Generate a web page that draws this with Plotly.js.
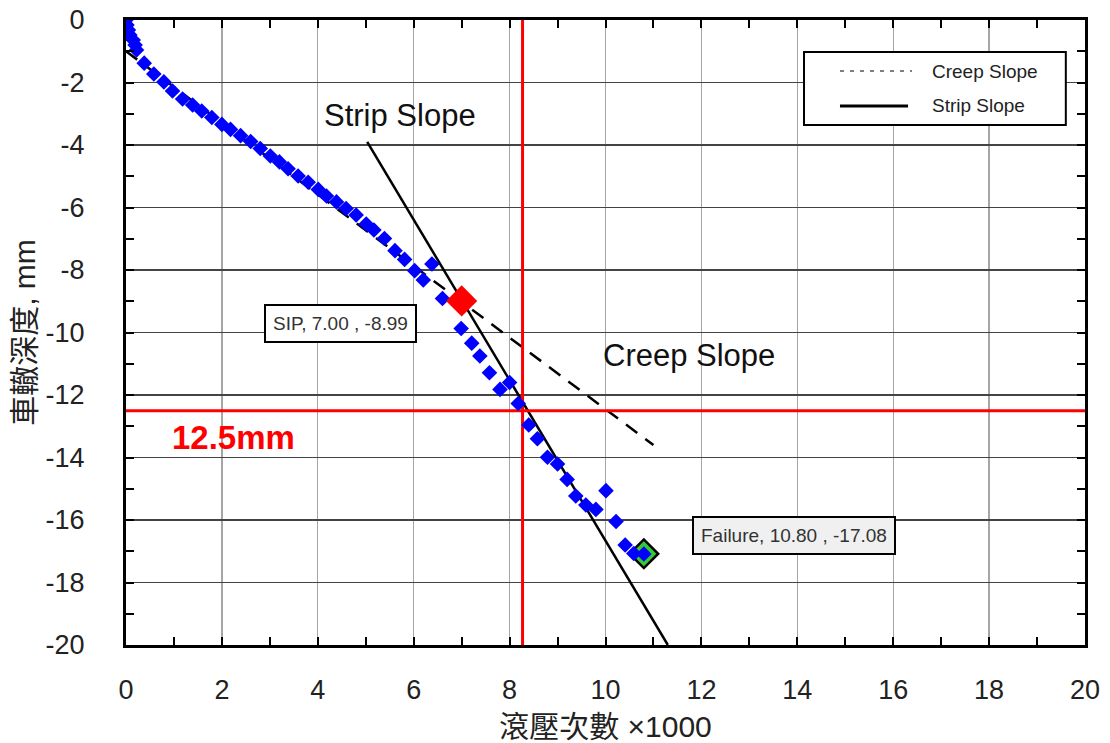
<!DOCTYPE html>
<html>
<head>
<meta charset="utf-8">
<script src="https://cdn.plot.ly/plotly-3.0.1.min.js"></script>
<style>html,body{margin:0;padding:0;background:#fff;}#chart{width:1110px;height:743px;}</style>
</head>
<body>
<div id="chart"></div>
<script>
// Rutting test data (passes x1000 vs rut depth, mm)
const passes = [0,0.02,0.05,0.08,0.15,0.19,0.22,0.38,0.58,0.79,0.97,1.18,1.39,1.58,1.79,2.00,2.18,2.39,2.60,2.80,3.01,3.20,3.38,3.59,3.80,4.01,4.18,4.39,4.59,4.80,5.01,5.17,5.39,5.61,5.81,6.02,6.20,6.38,6.60,6.99,7.21,7.38,7.58,7.80,8.00,8.18,8.40,8.58,8.79,9.00,9.20,9.38,9.59,9.80,10.01,10.22,10.41,10.59,10.80];
const rutDepth = [0,-0.16,-0.32,-0.48,-0.64,-0.80,-0.96,-1.38,-1.73,-1.98,-2.27,-2.53,-2.72,-2.91,-3.12,-3.34,-3.50,-3.70,-3.89,-4.11,-4.35,-4.54,-4.76,-4.99,-5.19,-5.42,-5.63,-5.82,-6.03,-6.24,-6.53,-6.72,-6.99,-7.38,-7.66,-8.02,-8.32,-7.81,-8.91,-9.87,-10.34,-10.75,-11.29,-11.82,-11.60,-12.27,-12.96,-13.40,-13.99,-14.21,-14.70,-15.23,-15.52,-15.66,-15.06,-16.05,-16.80,-17.07,-17.09];
const creepX = [0, 11.0];
const creepY = [-1.0, -13.6];
const stripX = [5.03, 11.30];
const stripY = [-3.90, -20.0];
const sipPoint = [7.00, -8.99];
const failurePoint = [10.80, -17.08];
const limitDepth = -12.5;
const limitPasses = 8.27;
const xTickVals = [0,2,4,6,8,10,12,14,16,18,20];
const yTickVals = [0,-2,-4,-6,-8,-10,-12,-14,-16,-18,-20];
const legendNames = ["Creep Slope", "Strip Slope"];

const F = "Liberation Sans, Arial, sans-serif";
const CJK = "Liberation Sans, Arial, 'Noto Sans CJK TC', sans-serif";

const traces = [
  {x: creepX, y: creepY, mode: 'lines', name: legendNames[0],
   line: {color: '#000', width: 2.5, dash: '14px,10px'}, showlegend: false},
  {x: stripX, y: stripY, mode: 'lines', name: legendNames[1],
   line: {color: '#000', width: 2.5}, showlegend: false},
  {x: [limitPasses, limitPasses], y: [0, -20], mode: 'lines', line: {color: '#ff0000', width: 3}, showlegend: false},
  {x: [0, 20], y: [limitDepth, limitDepth], mode: 'lines', line: {color: '#ff0000', width: 3}, showlegend: false},
  {x: [failurePoint[0]], y: [failurePoint[1]], mode: 'markers', showlegend: false,
   marker: {symbol: 'diamond', size: 22, color: '#33cc33', line: {color: '#000', width: 2.5}}},
  {x: passes, y: rutDepth, mode: 'markers', showlegend: false,
   marker: {symbol: 'diamond', size: 12, color: '#0000ff'}},
  {x: [sipPoint[0]], y: [sipPoint[1]], mode: 'markers', showlegend: false,
   marker: {symbol: 'diamond', size: 24, color: '#ff0000'}}
];

// manual legend (paper coordinates of the plot area)
const legBox = {x0: 0.707, x1: 0.980, y0: 0.832, y1: 0.949};
const legRows = [0.9184, 0.8624];
const shapes = [
  {type: 'rect', xref: 'paper', yref: 'paper', x0: legBox.x0, x1: legBox.x1, y0: legBox.y0, y1: legBox.y1,
   line: {color: '#000', width: 2}, fillcolor: '#fff', layer: 'above'},
  {type: 'line', xref: 'paper', yref: 'paper', x0: 0.7445, x1: 0.8196, y0: legRows[0], y1: legRows[0],
   line: {color: '#000', width: 1.2, dash: '4px,6px'}, layer: 'above'},
  {type: 'line', xref: 'paper', yref: 'paper', x0: 0.7445, x1: 0.8155, y0: legRows[1], y1: legRows[1],
   line: {color: '#000', width: 3}, layer: 'above'}
];

const layout = {
  width: 1110, height: 743,
  margin: {l: 126, r: 25, t: 20, b: 98},
  paper_bgcolor: '#fff', plot_bgcolor: '#fff',
  font: {family: F, color: '#222'},
  showlegend: false,
  shapes: shapes,
  xaxis: {
    range: [0, 20], tickvals: xTickVals, ticktext: xTickVals.map(String),
    showgrid: true, gridcolor: '#a6a6a6', gridwidth: 1.3,
    zeroline: false, showline: true, linecolor: '#000', linewidth: 3, mirror: 'ticks',
    ticks: 'inside', ticklen: 8, tickwidth: 2, tickcolor: '#000', ticklabelstandoff: 19,
    minor: {dtick: 1, ticks: 'inside', ticklen: 8, tickwidth: 2, tickcolor: '#000', showgrid: false},
    tickfont: {size: 27, family: F, color: '#222'},
    title: {text: '滾壓次數 ×1000', font: {size: 30, family: CJK, color: '#222'}, standoff: 24}
  },
  yaxis: {
    range: [-20, 0], tickvals: yTickVals, ticktext: yTickVals.map(String),
    showgrid: true, gridcolor: '#444', gridwidth: 1.3,
    zeroline: false, showline: true, linecolor: '#000', linewidth: 3, mirror: 'ticks',
    ticks: 'inside', ticklen: 8, tickwidth: 2, tickcolor: '#000', ticklabelstandoff: 33,
    minor: {dtick: 1, ticks: 'inside', ticklen: 8, tickwidth: 2, tickcolor: '#000', showgrid: false},
    tickfont: {size: 27, family: F, color: '#222'},
    title: {text: '車轍深度, mm', font: {size: 30, family: CJK, color: '#222'}, standoff: 2}
  },
  annotations: [
    {xref: 'paper', yref: 'paper', x: 0.8384, y: legRows[0], xanchor: 'left', yanchor: 'middle', text: legendNames[0], showarrow: false,
     font: {size: 19, family: F, color: '#222'}},
    {xref: 'paper', yref: 'paper', x: 0.8384, y: legRows[1], xanchor: 'left', yanchor: 'middle', text: legendNames[1], showarrow: false,
     font: {size: 19, family: F, color: '#222'}},
    {x: 5.71, y: -3.04, xref: 'x', yref: 'y', text: 'Strip Slope', showarrow: false,
     font: {size: 31, family: F, color: '#111'}},
    {x: 11.74, y: -10.75, xref: 'x', yref: 'y', text: 'Creep Slope', showarrow: false,
     font: {size: 31, family: F, color: '#111'}},
    {x: 2.25, y: -13.37, xref: 'x', yref: 'y', text: '<b>12.5mm</b>', showarrow: false,
     font: {size: 33, family: F, color: '#ff0000'}},
    {x: 4.48, y: -9.70, xref: 'x', yref: 'y',
     text: 'SIP, ' + sipPoint[0].toFixed(2) + ' , ' + sipPoint[1].toFixed(2), showarrow: false,
     font: {size: 19, family: F, color: '#333'}, bgcolor: '#fff', bordercolor: '#000', borderwidth: 2, borderpad: 7},
    {x: 13.93, y: -16.51, xref: 'x', yref: 'y',
     text: 'Failure, ' + failurePoint[0].toFixed(2) + ' , ' + failurePoint[1].toFixed(2), showarrow: false,
     font: {size: 19, family: F, color: '#333'}, bgcolor: '#f0f0f0', bordercolor: '#000', borderwidth: 2, borderpad: 7}
  ]
};

Plotly.newPlot('chart', traces, layout, {displayModeBar: false, staticPlot: true});
</script>
</body>
</html>
